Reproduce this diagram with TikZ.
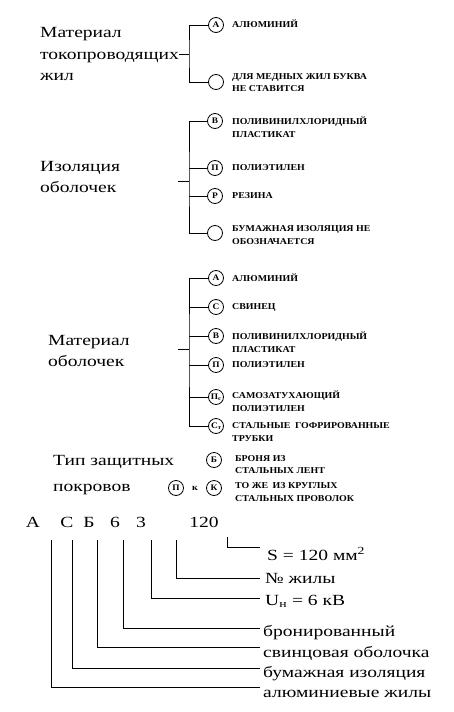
\documentclass[tikz,border=0pt]{standalone}
\usepackage{fontspec}
\setmainfont{Liberation Serif}
\newfontfamily\widefont[FakeStretch=1.26]{Liberation Serif}
\newfontfamily\capsfont[FakeStretch=1.1]{Liberation Serif}
\usetikzlibrary{positioning}
\begin{document}
\begin{tikzpicture}[x=1pt,y=-1pt,
  ln/.style={line width=0.9pt},
  ttl/.style={font=\widefont\fontsize{15.5}{21.5}\selectfont,align=left,inner sep=0pt,anchor=west},
  lbl/.style={font=\capsfont\bfseries\fontsize{9}{12.5}\selectfont,align=left,inner sep=0pt,anchor=west},
  circ/.style={draw,circle,line width=0.8pt,minimum size=15pt,inner sep=0pt,font=\capsfont\bfseries\fontsize{8.5}{8.5}\selectfont},
  code/.style={font=\widefont\fontsize{15.5}{18}\selectfont,inner sep=0pt},
  res/.style={font=\widefont\fontsize{15.5}{18}\selectfont,inner sep=0pt,anchor=base west}]
 \useasboundingbox (0,0) rectangle (453,712);
 % material of cores
 \node[ttl] (ttlA) at (40,54) {Материал\\токопроводящих\\жил};
 \node[circ] (alA) at (216,25) {А};
 \node[circ] (nonA) at (216,82) {};
 \node[lbl] (alAt) at (232,24) {АЛЮМИНИЙ};
 \node[lbl] (nonAt) at (232,82.5) {ДЛЯ МЕДНЫХ ЖИЛ БУКВА\\НЕ СТАВИТСЯ};
 \coordinate (jA) at (189,54);
 \draw[ln] (ttlA.east) -- (jA);
 \draw[ln] (alA) -| (jA) |- (nonA);
 % insulation
 \node[ttl] (ttlB) at (40,177) {Изоляция\\оболочек};
 \node[circ] (vB) at (215,121) {В};
 \node[circ] (pB) at (215,168) {П};
 \node[circ] (rezB) at (215,196) {Р};
 \node[circ] (nonB) at (215,233) {};
 \node[lbl] (vBt) at (232,127) {ПОЛИВИНИЛХЛОРИДНЫЙ\\ПЛАСТИКАТ};
 \node[lbl] (pBt) at (232,168) {ПОЛИЭТИЛЕН};
 \node[lbl] (rezBt) at (232,196) {РЕЗИНА};
 \node[lbl] (nonBt) at (232,235) {БУМАЖНАЯ ИЗОЛЯЦИЯ НЕ\\ОБОЗНАЧАЕТСЯ};
 \coordinate (kB) at (178,181);
 \coordinate (jB) at (189,181);
 \draw[ln] (kB) -- (jB);
 \draw[ln] (vB) -| (jB) |- (nonB);
 \foreach \c in {pB,rezB} \draw[ln] (jB |- \c) -- (\c);
 % sheath
 \node[ttl] (ttlC) at (48,351) {Материал\\оболочек};
 \node[circ] (aC) at (216,278) {А};
 \node[circ] (sC) at (216,307) {С};
 \node[circ] (vC) at (216,336) {В};
 \node[circ] (pC) at (216,365) {П};
 \node[circ] (psC) at (216,397) {П\raisebox{-1.5pt}{\fontsize{6}{6}\selectfont с}};
 \node[circ] (stC) at (216,426) {С\raisebox{-1.5pt}{\fontsize{6}{6}\selectfont т}};
 \node[lbl] (aCt) at (232,278) {АЛЮМИНИЙ};
 \node[lbl] (sCt) at (232,307) {СВИНЕЦ};
 \node[lbl] (vCt) at (232,342) {ПОЛИВИНИЛХЛОРИДНЫЙ\\ПЛАСТИКАТ};
 \node[lbl] (pCt) at (232,365) {ПОЛИЭТИЛЕН};
 \node[lbl] (psCt) at (232,401) {САМОЗАТУХАЮЩИЙ\\ПОЛИЭТИЛЕН};
 \node[lbl] (stCt) at (232,432) {СТАЛЬНЫЕ\enspace ГОФРИРОВАННЫЕ\\ТРУБКИ};
 \coordinate (kC) at (178,349);
 \coordinate (jC) at (189,349);
 \draw[ln] (kC) -- (jC);
 \draw[ln] (aC) -| (jC) |- (stC);
 \foreach \c in {sC,vC,pC,psC} \draw[ln] (jC |- \c) -- (\c);
 % protective covers
 \node[ttl] (ttlD) at (53,475) {Тип защитных\\[4pt]покровов};
 \node[circ] (bD) at (214,460) {Б};
 \node[circ] (pD) at (176,488) {П};
 \node[lbl,anchor=center] (andD) at (195,488) {к};
 \node[circ] (kD) at (214,488) {К};
 \node[lbl] (bDt) at (235,464.5) {БРОНЯ ИЗ\\СТАЛЬНЫХ ЛЕНТ};
 \node[lbl] (kDt) at (235,492) {ТО ЖЕ\enspace ИЗ КРУГЛЫХ\\СТАЛЬНЫХ ПРОВОЛОК};
 % example code
 \node[code] (cA) at (33,522) {А};
 \node[code] (cS) at (67,522) {С};
 \node[code] (cB) at (89,522) {Б};
 \node[code] (c6) at (115,522) {6};
 \node[code] (c3) at (141,522) {3};
 \node[code] (c120) at (204,522) {120};
 \node[res] (resS) at (267,560) {S = 120 мм\textsuperscript{2}};
 \node[res] (resN) at (265,583) {№ жилы};
 \node[res] (resU) at (265,605) {U\textsubscript{н} = 6 кВ};
 \node[res] (resB) at (263,636) {бронированный};
 \node[res] (resSh) at (263,657) {свинцовая оболочка};
 \node[res] (resI) at (263,677) {бумажная изоляция};
 \node[res] (resAl) at (263,697) {алюминиевые жилы};
 \coordinate (vAl) at (51,540);
 \coordinate (vI) at (72,540);
 \coordinate (vSh) at (97,540);
 \coordinate (vBr) at (123,540);
 \coordinate (vU) at (151,540);
 \coordinate (vN) at (176,540);
 \coordinate (vS) at (227,537);
 \draw[ln] (vAl) |- ([xshift=-3pt,yshift=10pt]resAl.base west);
 \draw[ln] (vI) |- ([xshift=-3pt,yshift=9pt]resI.base west);
 \draw[ln] (vSh) |- ([xshift=-3pt,yshift=10pt]resSh.base west);
 \draw[ln] (vBr) |- ([xshift=-3pt,yshift=8pt]resB.base west);
 \draw[ln] (vU) |- ([xshift=-5pt,yshift=7pt]resU.base west);
 \draw[ln] (vN) |- ([xshift=-5pt,yshift=5pt]resN.base west);
 \draw[ln] (vS) |- ([xshift=-7pt,yshift=13pt]resS.base west);
\end{tikzpicture}
\end{document}
